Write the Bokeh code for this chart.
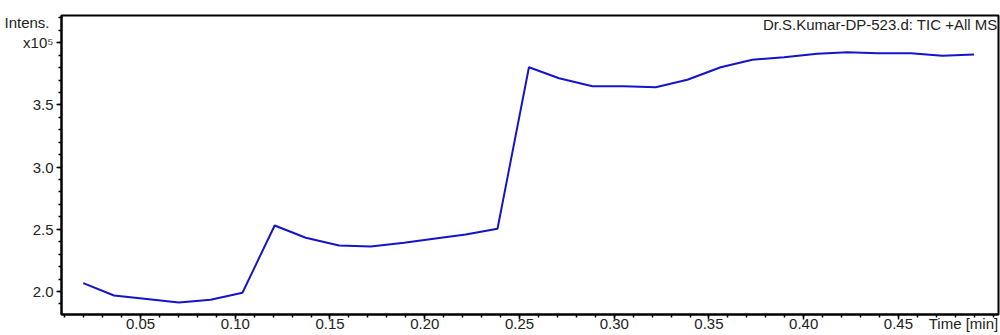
from bokeh.plotting import figure
from bokeh.models import Range1d, FixedTicker, Label, LinearAxis
from bokeh.embed import file_html
from bokeh.resources import INLINE

# TIC chromatogram values
time_min = [0.0198, 0.0360, 0.0533, 0.0703, 0.0870, 0.1038, 0.1208, 0.1372,
            0.1548, 0.1715, 0.1891, 0.2047, 0.2216, 0.2384, 0.2550, 0.2709,
            0.2885, 0.3050, 0.3219, 0.3386, 0.3562, 0.3729, 0.3896, 0.4072,
            0.4231, 0.4389, 0.4565, 0.4732, 0.4899]
intens_e5 = [2.067, 1.968, 1.940, 1.912, 1.933, 1.990, 2.531, 2.432,
             2.370, 2.362, 2.391, 2.424, 2.458, 2.504, 3.803, 3.715,
             3.650, 3.650, 3.642, 3.702, 3.803, 3.863, 3.883, 3.911,
             3.924, 3.916, 3.916, 3.895, 3.905]

x_major = [0.05, 0.10, 0.15, 0.20, 0.25, 0.30, 0.35, 0.40, 0.45]
x_labels = ["0.05", "0.10", "0.15", "0.20", "0.25", "0.30", "0.35", "0.40", "0.45"]
x_minor = [round(0.01 * i, 2) for i in range(1, 51)]
x_title_pos = [0.4843]
x_title = ["Time [min]"]

y_major = [2.0, 2.5, 3.0, 3.5, 4.0]
y_labels = ["2.0", "2.5", "3.0", "3.5", "x10\u2075"]
y_minor = [1.9] + [round(2.0 + 0.1 * i, 1) for i in range(0, 23)]
y_title_pos = [4.159]
y_title = ["Intens."]

title_text = "Dr.S.Kumar-DP-523.d: TIC +All MS"

X_START, X_END = 0.0083, 0.5028
Y_START, Y_END = 1.815, 4.219

FONT = "Liberation Sans"
TXT = "#222222"

p = figure(width=1000, height=335,
           x_range=Range1d(X_START, X_END), y_range=Range1d(Y_START, Y_END),
           output_backend="svg", toolbar_location=None,
           min_border_left=61, min_border_right=2, min_border_top=15, min_border_bottom=21)

p.line(time_min, intens_e5, line_color="#1414c8", line_width=2)

p.xgrid.visible = False
p.ygrid.visible = False
p.outline_line_color = "black"
p.outline_line_width = 2
p.background_fill_color = "white"
p.border_fill_color = "white"

xa = p.xaxis[0]
xa.ticker = FixedTicker(ticks=x_major, minor_ticks=x_minor)
xa.major_label_overrides = {t: l for t, l in zip(x_major, x_labels)}
ya = p.yaxis[0]
ya.ticker = FixedTicker(ticks=y_major, minor_ticks=y_minor)
ya.major_label_overrides = {t: l for t, l in zip(y_major, y_labels)}
for ax in (xa, ya):
    ax.axis_line_color = "black"
    ax.axis_line_width = 2
    ax.major_tick_in = 0
    ax.minor_tick_in = 0
    ax.major_tick_out = 5
    ax.minor_tick_out = 3
    ax.major_tick_line_width = 1.5
    ax.minor_tick_line_width = 1.5
    ax.major_tick_line_color = "black"
    ax.minor_tick_line_color = "black"
    ax.major_label_text_font = FONT
    ax.major_label_text_font_size = "15px"
    ax.major_label_text_color = TXT
xa.major_label_standoff = -1
ya.major_label_standoff = 3

# axis titles drawn as single labels on outer axes, pulled back into line
xl = LinearAxis(ticker=FixedTicker(ticks=x_title_pos, minor_ticks=[]),
                major_label_overrides={t: l for t, l in zip(x_title_pos, x_title)})
yl = LinearAxis(ticker=FixedTicker(ticks=y_title_pos, minor_ticks=[]),
                major_label_overrides={t: l for t, l in zip(y_title_pos, y_title)})
for ax in (xl, yl):
    ax.axis_line_color = None
    ax.major_tick_line_color = None
    ax.minor_tick_line_color = None
    ax.major_tick_in = 0
    ax.major_tick_out = 0
    ax.minor_tick_in = 0
    ax.minor_tick_out = 0
    ax.major_label_text_font = FONT
    ax.major_label_text_font_size = "15px"
    ax.major_label_text_color = TXT
xl.major_label_standoff = -17
yl.major_label_standoff = -29
p.add_layout(xl, "below")
p.add_layout(yl, "left")

p.add_layout(Label(x=X_END - 0.0005, y=Y_END - 0.008, text=title_text,
                   text_align="right", text_baseline="top",
                   text_font=FONT, text_font_size="15px", text_color=TXT))

open("out.html", "w").write(file_html(p, INLINE))
